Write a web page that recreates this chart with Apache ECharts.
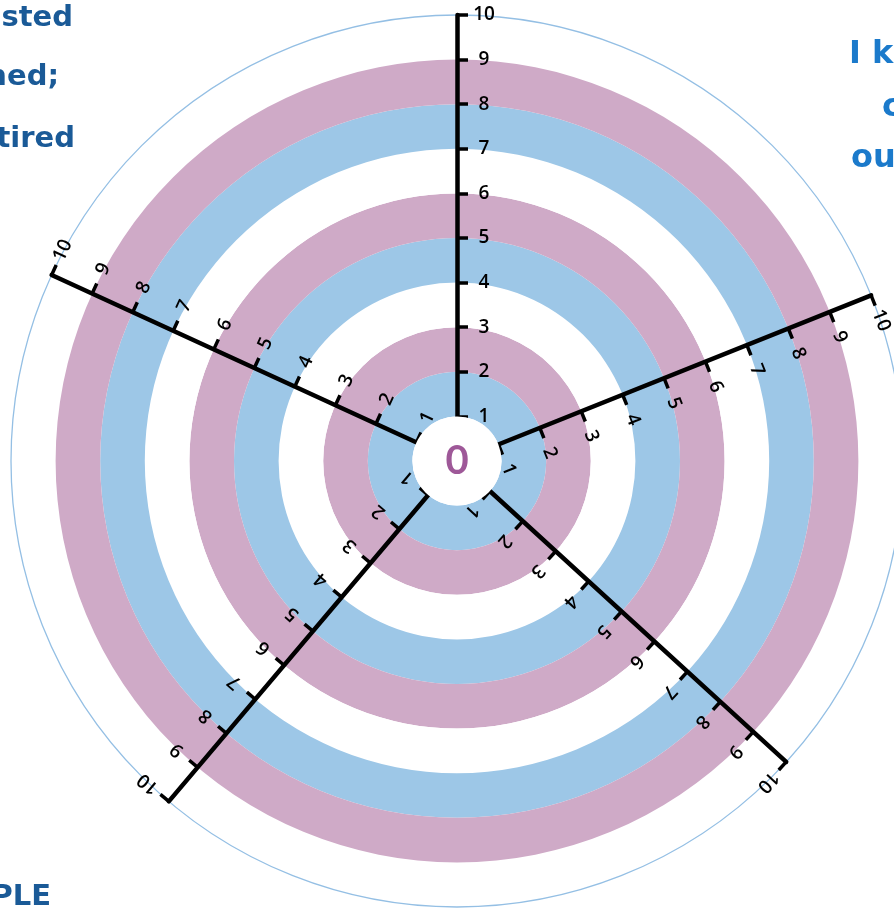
<!DOCTYPE html>
<html><head><meta charset="utf-8">
<script src="https://cdn.jsdelivr.net/npm/echarts@6/dist/echarts.min.js"></script>
<style>html,body{margin:0;padding:0;background:#fff}#c{width:894px;height:908px}</style>
</head><body><div id="c"></div>
<script>
// ---------- data ----------
const tickLabels = ['1','2','3','4','5','6','7','8','9','10'];
const scaleMin = 0;
const scaleMax = 10;
const scaleStep = 1;
const bandEdges = [0, 1, 2, 3, 4, 5, 6, 7, 8, 9];
const bandKinds = ['hub', 'blue', 'pink', 'gap', 'blue', 'pink', 'gap', 'blue', 'pink'];
const centerLabel = '0';
const textTopLeft = ['sted', 'hed;', 'tired'];
const textTopRight = ['I k', 'c', 'ou'];
const textBottomLeft = ['PLE'];

// ---------- layout & style ----------
const CENTER = [457, 461];
const RADIUS = 446;
const AXIS_ANGLES = [90, 21.8, 317.57, 229.75, 155.35];
const COLORS = { hub: '#ffffff', blue: '#9dc7e7', pink: '#cfaac7', gap: '#ffffff' };
const DARK_BLUE = '#1a5a97';
const MID_BLUE = '#1b7acb';
const PURPLE = '#862e7e';

const chart = echarts.init(document.getElementById('c'), null, { renderer: 'canvas' });

const polar = AXIS_ANGLES.map(() => ({ center: CENTER, radius: RADIUS }));

const angleAxis = AXIS_ANGLES.map((a, i) => i === 0 ? {
  polarIndex: 0, type: 'category', data: ['ring'], startAngle: a,
  axisLine: { show: true, lineStyle: { color: '#94bfe4', width: 1.3 } },
  axisTick: { show: false }, axisLabel: { show: false },
  splitLine: { show: false }, splitArea: { show: false }
} : {
  polarIndex: i, type: 'value', min: 0, max: 360, startAngle: a, show: false
});

const radiusAxis = AXIS_ANGLES.map((a, i) => ({
  polarIndex: i, type: 'value', min: scaleMin, max: scaleMax, interval: scaleStep, z: 5,
  axisLine: { show: true, lineStyle: { color: '#000', width: 4.5 } },
  axisTick: { show: true, length: -11, lineStyle: { color: '#000', width: 3.5 } },
  axisLabel: {
    show: true, margin: -27, rotate: a - 90, align: 'center', verticalAlign: 'middle',
    fontSize: 19, fontWeight: 600, color: '#000', fontFamily: 'Open Sans',
    formatter: v => (v > 0 ? tickLabels[Math.round(v) - 1] : '')
  },
  splitLine: { show: false }, splitArea: { show: false }
}));

const series = bandKinds.map((k, i) => ({
  type: 'bar', coordinateSystem: 'polar', polarIndex: 0, stack: 'rings',
  data: [bandEdges[i + 1] - bandEdges[i]],
  barWidth: '100%', barCategoryGap: '0%', silent: true,
  itemStyle: { color: COLORS[k] },
  z: k === 'hub' ? 10 : 1
}));
series.push({
  type: 'scatter', coordinateSystem: 'polar', polarIndex: 0,
  data: [[0, 0]], symbolSize: 1, itemStyle: { color: 'rgba(0,0,0,0)' }, z: 12, silent: true,
  label: { show: true, position: 'inside', formatter: centerLabel, color: PURPLE,
           fontSize: 40, fontWeight: 'bold', fontFamily: 'Lato' }
});

function txt(text, x, y, align, color, size) {
  return { type: 'text', z: 20, style: { text, x, y, textAlign: align, textVerticalAlign: 'middle',
           font: 'bold ' + size + 'px "DejaVu Sans"', fill: color } };
}
const graphic = [
  txt(textTopLeft[0], 73, 18, 'right', DARK_BLUE, 29),
  txt(textTopLeft[1], 59, 77, 'right', DARK_BLUE, 29),
  txt(textTopLeft[2], 75, 139, 'right', DARK_BLUE, 29),
  txt(textTopRight[0], 849, 55, 'left', MID_BLUE, 32),
  txt(textTopRight[1], 882, 108, 'left', MID_BLUE, 32),
  txt(textTopRight[2], 851, 159, 'left', MID_BLUE, 32),
  txt(textBottomLeft[0], 51, 897, 'right', DARK_BLUE, 29)
];

chart.setOption({
  backgroundColor: '#ffffff',
  animation: false,
  polar, angleAxis, radiusAxis, series, graphic
});
</script></body></html>
